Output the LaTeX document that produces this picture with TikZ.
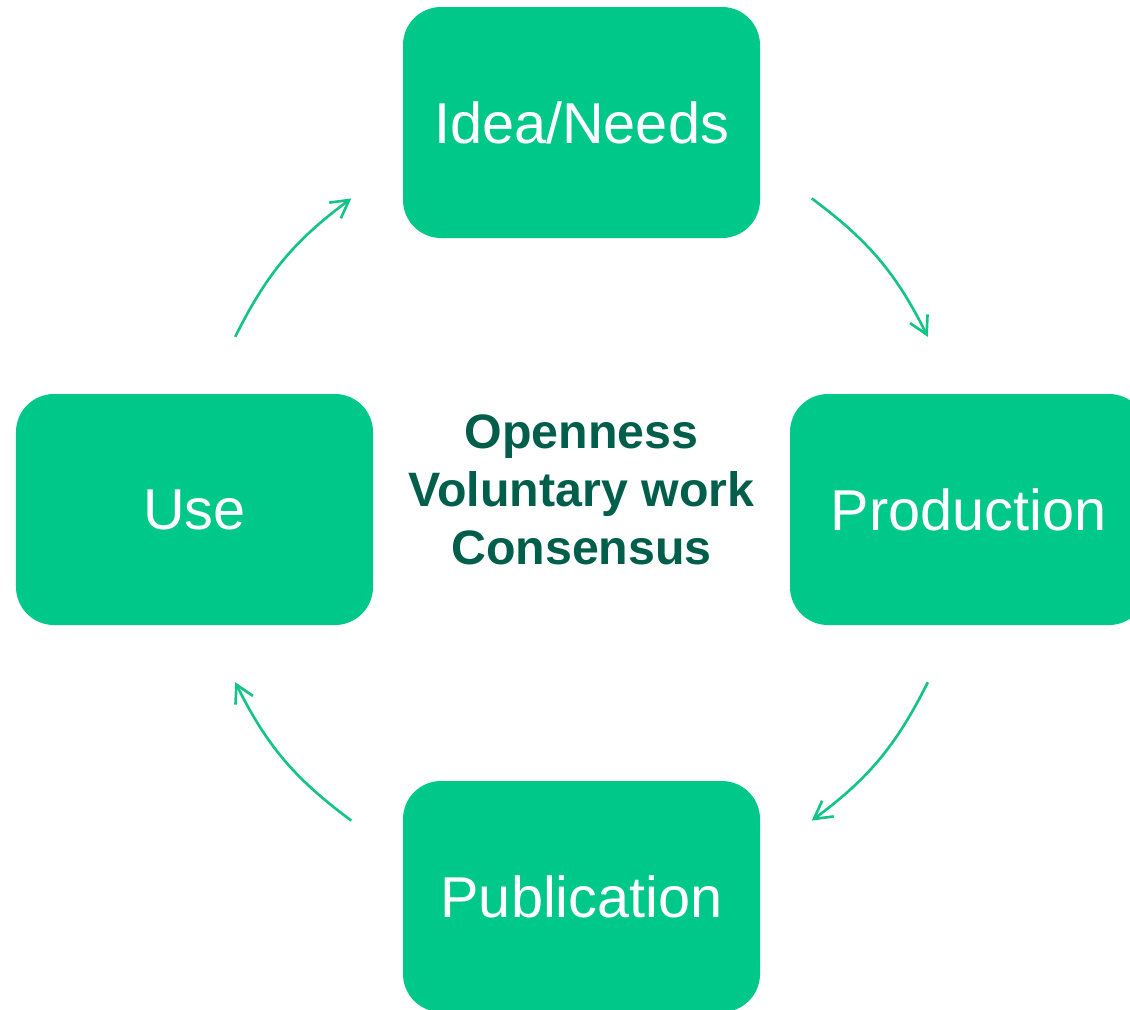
\documentclass[tikz,border=0pt]{standalone}
\usepackage{fontspec}
\setmainfont{Liberation Sans}
\usetikzlibrary{calc,arrows.meta}

\definecolor{boxgreen}{RGB}{0,200,136}
\definecolor{textgreen}{RGB}{0,94,75}
\definecolor{arrowgreen}{RGB}{20,196,132}

\begin{document}
\begin{tikzpicture}

	% INPUTS:
	\newcommand{\wvar}{3.57};		% box width
	\newcommand{\hvar}{2.31};		% box height
	\newcommand{\dvar}{3.87};		% distance from the centre to each box
	\newcommand{\rvar}{3.87};		% radius of the circle the arrows lie on

	% styles
	\tikzstyle{stage}=[fill=boxgreen,rounded corners=0.38cm,minimum width=\wvar cm,minimum height=\hvar cm,text=white,font=\fontsize{16.4}{19.7}\selectfont];
	\tikzstyle{flow}=[draw=arrowgreen,line width=0.75pt,-{Straight Barb[length=1.75mm,width=1.95mm]}];

	% frame of the picture (the right and bottom boxes are cut by it)
	\path[use as bounding box,clip] (-5.815,-4.995) rectangle (5.485,5.095);

	% centre of the cycle and the text in it
	\coordinate (hub) at (0,0);
	\node[align=center,text=textgreen,font=\bfseries\fontsize{13.75}{16.5}\selectfont] (motto) at (0,0.2) {Openness\\Voluntary work\\Consensus};

	% the four stages
	\node[stage] (idea) at ($(hub)+(0,\dvar)$) {Idea/Needs};
	\node[stage] (production) at ($(hub)+(\dvar,0)$) {Production};
	\node[stage] (publication) at ($(hub)+(0,-\dvar)$) {Publication};
	\node[stage] (use) at ($(hub)+(-\dvar,0)$) {Use};

	% end points of the arrows on the circle
	\coordinate (p1) at ($(hub)+(153.5:\rvar)$);
	\coordinate (p2) at ($(hub)+(126.5:\rvar)$);
	\coordinate (p3) at ($(hub)+(53.5:\rvar)$);
	\coordinate (p4) at ($(hub)+(26.5:\rvar)$);
	\coordinate (p5) at ($(hub)+(-26.5:\rvar)$);
	\coordinate (p6) at ($(hub)+(-53.5:\rvar)$);
	\coordinate (p7) at ($(hub)+(-126.5:\rvar)$);
	\coordinate (p8) at ($(hub)+(-153.5:\rvar)$);

	% arrows going round clockwise
	\draw[style=flow] (p1) to[bend left=13.5] (p2);
	\draw[style=flow] (p3) to[bend left=13.5] (p4);
	\draw[style=flow] (p5) to[bend left=13.5] (p6);
	\draw[style=flow] (p7) to[bend left=13.5] (p8);

\end{tikzpicture}
\end{document}
